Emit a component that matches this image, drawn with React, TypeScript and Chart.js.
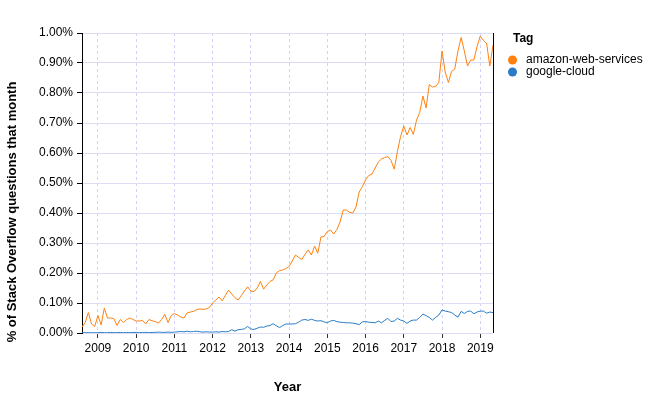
import React, { useEffect, useRef } from "react";
import { Chart, registerables } from "chart.js";

Chart.register(...registerables);

const FONT = "'Liberation Sans', Arial, Helvetica, sans-serif";

// First month of the series (August 2008), one value per month
const START_YEAR = 2008;
const START_MONTH = 8;

const YEAR_TICKS = [2009, 2010, 2011, 2012, 2013, 2014, 2015, 2016, 2017, 2018, 2019];
const PCT_TICKS = [0, 0.1, 0.2, 0.3, 0.4, 0.5, 0.6, 0.7, 0.8, 0.9, 1.0];

const TAGS = ["amazon-web-services", "google-cloud"];
const TAG_COLORS = ["#ff800e", "#2a7cc6"];

const X_TITLE = "Year";
const Y_TITLE = "% of Stack Overflow questions that month";
const LEGEND_TITLE = "Tag";

// % of questions per month, Aug 2008 .. May 2019
const AWS = [
  0.020, 0.035, 0.068, 0.030, 0.022,
  0.058, 0.027, 0.083, 0.050, 0.050, 0.048, 0.025, 0.045, 0.035, 0.045, 0.050, 0.045,
  0.040, 0.040, 0.042, 0.030, 0.045, 0.041, 0.038, 0.033, 0.045, 0.062, 0.035, 0.058,
  0.065, 0.060, 0.053, 0.050, 0.067, 0.070, 0.072, 0.078, 0.080, 0.079, 0.080, 0.085,
  0.100, 0.110, 0.120, 0.107, 0.125, 0.143, 0.130, 0.118, 0.110, 0.125, 0.140, 0.154,
  0.140, 0.138, 0.150, 0.172, 0.146, 0.160, 0.172, 0.177, 0.200, 0.208, 0.210, 0.215,
  0.222, 0.240, 0.260, 0.252, 0.245, 0.262, 0.277, 0.260, 0.290, 0.266, 0.320, 0.322,
  0.338, 0.343, 0.330, 0.345, 0.370, 0.410, 0.410, 0.402, 0.400, 0.420, 0.470, 0.488,
  0.510, 0.525, 0.530, 0.550, 0.570, 0.580, 0.585, 0.588, 0.575, 0.546, 0.605, 0.655,
  0.690, 0.660, 0.685, 0.662, 0.710, 0.735, 0.790, 0.750, 0.828, 0.820, 0.822, 0.835,
  0.940, 0.870, 0.835, 0.872, 0.880, 0.940, 0.985, 0.940, 0.890, 0.910, 0.910, 0.955,
  0.990, 0.975, 0.965, 0.890, 0.960,
];

const GCLOUD = [
  0.001, 0.001, 0.001, 0.001, 0.001,
  0.001, 0.002, 0.001, 0.001, 0.002, 0.001, 0.001, 0.002, 0.001, 0.002, 0.001, 0.002,
  0.002, 0.001, 0.002, 0.002, 0.001, 0.002, 0.002, 0.003, 0.002, 0.002, 0.003, 0.002,
  0.003, 0.004, 0.005, 0.004, 0.006, 0.004, 0.005, 0.006, 0.004, 0.003, 0.004, 0.003,
  0.003, 0.004, 0.003, 0.005, 0.004, 0.005, 0.011, 0.006, 0.011, 0.012, 0.014, 0.022,
  0.013, 0.012, 0.016, 0.020, 0.019, 0.023, 0.025, 0.031, 0.024, 0.018, 0.025, 0.030,
  0.030, 0.030, 0.031, 0.036, 0.043, 0.045, 0.042, 0.046, 0.042, 0.040, 0.041, 0.037,
  0.034, 0.040, 0.042, 0.038, 0.036, 0.035, 0.034, 0.034, 0.033, 0.031, 0.028, 0.037,
  0.038, 0.036, 0.035, 0.034, 0.040, 0.034, 0.042, 0.049, 0.038, 0.040, 0.049, 0.043,
  0.040, 0.032, 0.040, 0.043, 0.043, 0.052, 0.063, 0.058, 0.052, 0.043, 0.052, 0.060,
  0.077, 0.073, 0.071, 0.068, 0.060, 0.053, 0.072, 0.065, 0.072, 0.073, 0.064, 0.070,
  0.073, 0.073, 0.066, 0.070, 0.068,
];

const monthX = (i: number) => START_YEAR + (START_MONTH - 1 + i) / 12;
const toPoints = (vals: number[]) => vals.map((v, i) => ({ x: monthX(i), y: v }));

const decorPlugin = {
  id: "decor",
  afterDraw(chart: any) {
    const { ctx, chartArea } = chart;
    ctx.save();
    // right frame line
    ctx.strokeStyle = "#000";
    ctx.lineWidth = 1;
    ctx.beginPath();
    const rx = Math.round(chartArea.right) + 0.5;
    ctx.moveTo(rx, chartArea.top);
    ctx.lineTo(rx, chartArea.bottom);
    ctx.stroke();

    // y axis title
    ctx.save();
    ctx.translate(12, 212);
    ctx.rotate(-Math.PI / 2);
    ctx.fillStyle = "#000";
    ctx.font = `bold 13px ${FONT}`;
    ctx.textAlign = "center";
    ctx.textBaseline = "middle";
    ctx.fillText(Y_TITLE, 0, 0);
    ctx.restore();

    // legend
    ctx.fillStyle = "#000";
    ctx.font = `bold 12px ${FONT}`;
    ctx.textAlign = "left";
    ctx.textBaseline = "middle";
    ctx.fillText(LEGEND_TITLE, 513, 39);
    ctx.font = `12px ${FONT}`;
    chart.data.datasets.forEach((ds: any, i: number) => {
      const cy = 60 + i * 12;
      ctx.beginPath();
      ctx.arc(512.5, cy, 4.5, 0, Math.PI * 2);
      ctx.fillStyle = ds.borderColor;
      ctx.fill();
      ctx.fillStyle = "#000";
      ctx.fillText(ds.label, 526, cy);
    });
    ctx.restore();
  },
};

export default function App() {
  const ref = useRef<HTMLCanvasElement>(null);

  useEffect(() => {
    if (!ref.current) return;
    const chart = new Chart(ref.current, {
      type: "line",
      data: {
        datasets: [
          {
            label: TAGS[0],
            data: toPoints(AWS),
            borderColor: TAG_COLORS[0],
            backgroundColor: TAG_COLORS[0],
            borderWidth: 1,
            pointRadius: 0,
            tension: 0,
            fill: false,
          },
          {
            label: TAGS[1],
            data: toPoints(GCLOUD),
            borderColor: TAG_COLORS[1],
            backgroundColor: TAG_COLORS[1],
            borderWidth: 1,
            pointRadius: 0,
            tension: 0,
            fill: false,
          },
        ],
      },
      options: {
        animation: false,
        responsive: false,
        devicePixelRatio: 1,
        layout: { padding: { top: 33, right: 152, bottom: 0, left: 0 } },
        plugins: { legend: { display: false }, tooltip: { enabled: false } },
        scales: {
          x: {
            type: "linear",
            min: monthX(0),
            max: monthX(AWS.length - 1),
            afterBuildTicks: (s: any) => {
              s.ticks = YEAR_TICKS.map((v) => ({ value: v }));
            },
            afterFit: (s: any) => {
              s.height = 65;
            },
            ticks: {
              color: "#000",
              font: { family: FONT, size: 12 },
              padding: 3,
              autoSkip: false,
              maxRotation: 0,
              callback: (v: any) => String(v),
            },
            grid: {
              color: "#d2d2f6",
              tickColor: "#333",
              tickLength: 5,
              tickBorderDash: [],
            },
            border: { display: false, dash: [3, 3] },
            title: {
              display: true,
              text: X_TITLE,
              color: "#000",
              font: { family: FONT, size: 13, weight: "bold" },
              padding: { top: 0, bottom: 3 },
            },
          },
          y: {
            min: 0,
            max: 1,
            afterBuildTicks: (s: any) => {
              s.ticks = PCT_TICKS.map((v) => ({ value: v }));
            },
            afterFit: (s: any) => {
              s.width = 82;
            },
            ticks: {
              color: "#000",
              font: { family: FONT, size: 12 },
              padding: 4,
              callback: (v: any) => Number(v).toFixed(2) + "%",
            },
            grid: {
              color: "#dcdcf5",
              tickColor: "#000",
              tickLength: 5,
            },
            border: { display: true, color: "#000", width: 1 },
          },
        },
      },
      plugins: [decorPlugin],
    });
    return () => chart.destroy();
  }, []);

  return (
    <div style={{ position: "absolute", left: 0, top: 0, width: 645, height: 398, background: "#fff" }}>
      <canvas ref={ref} width={645} height={398} style={{ width: 645, height: 398, display: "block" }} />
    </div>
  );
}
